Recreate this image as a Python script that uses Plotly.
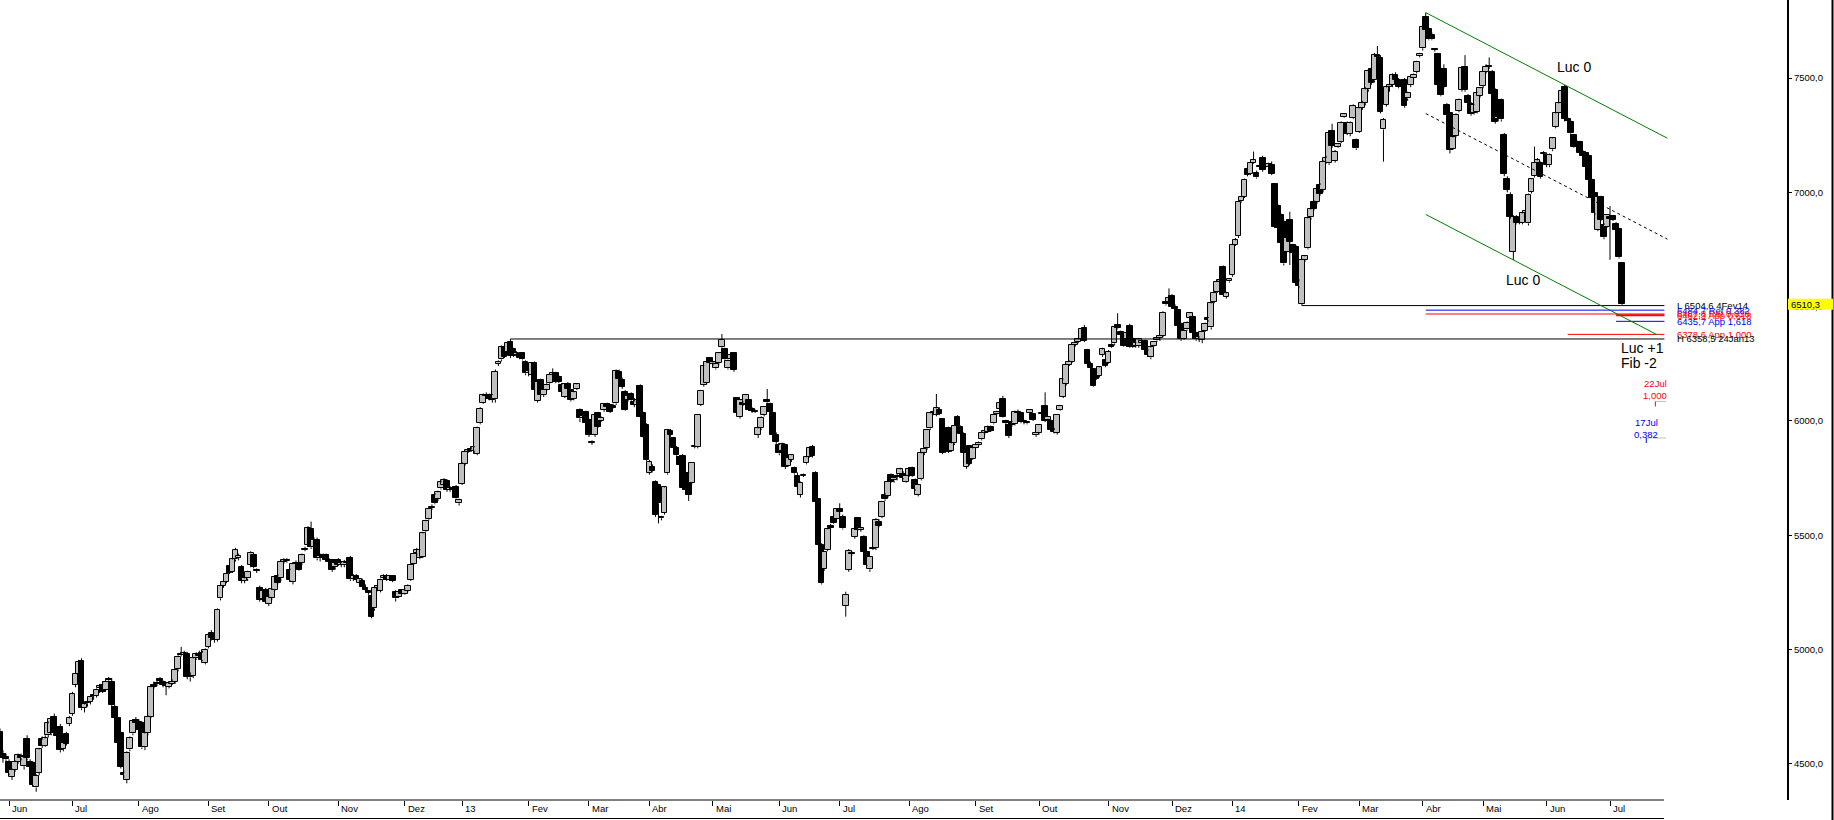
import plotly.graph_objects as go

# ---------------- DATA: daily candles (open, high, low, close) by month ----------------
m2012_05 = [(4640,4655,4530,4548),(4545,4560,4505,4525),(4530,4545,4510,4520)]
m2012_06 = [(4510,4520,4450,4458),(4444,4480,4430,4473),(4475,4515,4465,4508),(4510,4545,4500,4539),
            (4535,4545,4515,4525),(4490,4535,4475,4531),(4607,4625,4515,4524),(4510,4520,4480,4488),
            (4502,4510,4400,4407),(4397,4455,4378,4447),(4461,4570,4450,4563),(4607,4620,4570,4578),
            (4580,4625,4575,4612),(4626,4685,4615,4677),(4633,4700,4625,4695),(4703,4720,4625,4633),
            (4630,4650,4600,4620),(4663,4675,4550,4560),(4565,4600,4555,4590),(4630,4640,4580,4587),
            (4674,4710,4665,4699)]
m2012_07 = [(4718,4815,4710,4805),(4845,4900,4835,4893),(4893,4955,4885,4944),(4951,4962,4735,4743),
            (4745,4770,4725,4760),(4765,4790,4750,4772),(4772,4800,4760,4794),(4800,4815,4780,4797),
            (4797,4830,4790,4823),(4830,4850,4810,4840),(4845,4860,4810,4816),(4825,4870,4820,4860),
            (4870,4880,4860,4866),(4860,4875,4710,4757),(4750,4760,4690,4700),(4699,4705,4585,4592),
            (4633,4640,4480,4488),(4460,4470,4440,4450),(4429,4555,4415,4549),(4563,4620,4555,4612),
            (4633,4695,4625,4689),(4690,4705,4670,4680)]
m2012_08 = [(4684,4695,4640,4648),(4677,4685,4565,4572),(4575,4640,4560,4633),(4633,4715,4625,4706),
            (4706,4845,4700,4835),(4845,4860,4830,4838),(4855,4865,4840,4850),(4870,4880,4855,4862),
            (4860,4865,4835,4845),(4850,4855,4800,4840),(4838,4860,4830,4852),(4850,4870,4845,4860),
            (4859,4915,4850,4910),(4913,4975,4905,4969),(4980,5012,4970,4976),(4978,4995,4960,4985),
            (4980,4990,4870,4881),(4885,4900,4860,4878),(4884,4965,4875,4961),(4961,4988,4955,4980),
            (4980,4995,4965,4972),(4986,4995,4950,4954),(4943,5005,4935,5000)]
m2012_09 = [(5012,5070,5005,5063),(5074,5085,5040,5049),(5045,5060,5030,5042),(5042,5180,5035,5173),
            (5224,5285,5215,5278),(5280,5300,5270,5295),(5297,5340,5290,5330),(5365,5375,5330,5336),
            (5340,5400,5335,5394),(5394,5445,5385,5435),(5400,5420,5390,5410),(5362,5370,5290,5301),
            (5300,5320,5290,5311),(5311,5345,5300,5340),(5370,5430,5360,5424),(5413,5420,5355,5362),
            (5348,5355,5335,5345),(5268,5280,5210,5217),(5220,5260,5215,5255),(5260,5270,5205,5210)]
m2012_10 = [(5199,5240,5190,5231),(5224,5270,5215,5263),(5260,5325,5255,5316),(5320,5330,5285,5290),
            (5311,5392,5300,5384),(5384,5400,5375,5392),(5392,5400,5380,5386),(5348,5355,5295,5304),
            (5297,5380,5285,5374),(5374,5390,5365,5380),(5377,5385,5345,5350),(5377,5420,5370,5413),
            (5440,5450,5430,5436),(5457,5540,5450,5530),(5526,5560,5440,5447),(5450,5490,5440,5480),
            (5479,5490,5390,5399),(5400,5420,5385,5410),(5415,5420,5395,5402),(5413,5420,5385,5392),
            (5390,5400,5370,5385),(5392,5395,5340,5348),(5360,5390,5350,5380)]
m2012_11 = [(5390,5400,5365,5370),(5372,5385,5360,5378),(5370,5392,5360,5385),(5385,5395,5375,5380),
            (5399,5410,5300,5307),(5310,5330,5300,5322),(5320,5330,5295,5304),(5290,5312,5280,5307),
            (5301,5310,5265,5272),(5270,5285,5255,5262),(5255,5260,5240,5249),(5234,5240,5137,5144),
            (5180,5280,5170,5268),(5270,5285,5255,5280),(5258,5310,5250,5304),(5315,5330,5305,5322),
            (5322,5330,5300,5304),(5305,5325,5300,5320),(5320,5325,5295,5300),(5253,5260,5210,5224),
            (5230,5260,5225,5253),(5260,5265,5240,5245)]
m2012_12 = [(5245,5270,5240,5262),(5258,5285,5250,5278),(5304,5375,5300,5370),(5375,5425,5370,5418),
            (5421,5445,5410,5435),(5400,5440,5395,5435),(5406,5515,5400,5508),(5520,5568,5515,5562),
            (5570,5620,5565,5615),(5620,5635,5610,5625),(5676,5685,5635,5640),(5659,5695,5650,5688),
            (5705,5740,5700,5731),(5722,5750,5715,5742),(5737,5745,5690,5698),(5700,5715,5690,5705),
            (5705,5712,5690,5700),(5712,5720,5655,5661),(5640,5660,5630,5654)]
m2013_01 = [(5724,5820,5720,5812),(5812,5870,5805,5866),(5866,5880,5860,5875),(5875,5890,5865,5870),
            (5870,5890,5860,5884),(5855,5975,5850,5971),(5990,6060,5985,6052),(6080,6120,6075,6113),
            (6113,6125,6100,6108),(6113,6120,6090,6095),(6113,6118,6080,6092),(6095,6225,6080,6215),
            (6250,6265,6240,6260),(6269,6330,6260,6322),(6325,6335,6275,6280),(6303,6345,6295,6339),
            (6345,6358.5,6275,6285),(6313,6320,6280,6284),(6290,6305,6280,6298),(6295,6300,6270,6274),
            (6296,6300,6265,6269),(6259,6265,6200,6208)]
m2013_02 = [(6210,6230,6195,6220),(6200,6258,6190,6252),(6252,6260,6130,6135),(6089,6180,6080,6172),
            (6179,6185,6105,6113),(6113,6140,6105,6135),(6135,6165,6130,6157),(6165,6205,6160,6201),
            (6200,6230,6190,6210),(6208,6215,6165,6172),(6193,6200,6165,6172),(6157,6165,6120,6128),
            (6106,6165,6100,6160),(6160,6170,6130,6140),(6135,6140,6085,6091),(6095,6130,6090,6125),
            (6140,6165,6135,6160),(6048,6055,5995,6011),(6015,6035,5995,6020),(6040,6045,5985,5990)]
m2013_03 = [(6004,6010,5930,5939),(5905,5915,5895,5909),(5939,6030,5930,6026),(6033,6040,5970,5975),
            (6000,6020,5995,6015),(6048,6078,6040,6074),(6074,6080,6050,6060),(6070,6075,6035,6040),
            (6062,6075,6055,6060),(6077,6225,6070,6220),(6215,6225,6175,6182),(6180,6190,6140,6150),
            (6128,6135,6045,6048),(6090,6115,6085,6110),(6120,6125,6085,6090),(6085,6100,6060,6070),
            (6070,6095,6060,6090),(6153,6160,6015,6019),(6036,6040,5925,5931),(5982,5990,5825,5829)]
m2013_04 = [(5774,5830,5765,5822),(5800,5810,5775,5780),(5734,5740,5580,5589),(5720,5725,5552,5640),
            (5580,5585,5565,5574),(5599,5715,5590,5709),(5771,5965,5765,5960),(5957,5965,5930,5938),
            (5924,5930,5875,5880),(5880,5890,5840,5850),(5844,5850,5800,5807),(5847,5855,5700,5705),
            (5710,5730,5690,5700),(5771,5780,5650,5676),(5730,5820,5720,5817),(5890,5895,5880,5888),
            (5887,6030,5880,6026),(6070,6135,6065,6132),(6157,6245,6150,6240),(6164,6262,6160,6259),
            (6274,6280,6248,6252)]
m2013_05 = [(6252,6262,6240,6255),(6230,6255,6225,6250),(6252,6300,6245,6296),(6322,6380,6315,6354),
            (6313,6320,6265,6269),(6230,6268,6225,6264),(6270,6300,6260,6290),(6296,6300,6215,6223),
            (6099,6105,6030,6033),(6019,6095,6010,6091),(6080,6085,6065,6070),(6074,6118,6070,6113),
            (6090,6095,6045,6050),(6050,6060,6035,6045),(6045,6050,6035,6040),(5939,5975,5925,5967),
            (5967,6020,5960,6015),(6026,6065,6020,6062),(6090,6140,6080,6085),(6074,6080,6035,6041),
            (6033,6040,5935,5938),(5940,5950,5900,5910)]
m2013_06 = [(5895,5900,5850,5858),(5870,5905,5860,5898),(5895,5900,5790,5800),(5805,5850,5800,5840),
            (5830,5855,5820,5850),(5793,5800,5765,5771),(5760,5775,5700,5710),(5676,5735,5665,5730),
            (5760,5770,5755,5765),(5815,5845,5810,5841),(5844,5885,5840,5880),(5887,5895,5840,5847),
            (5774,5780,5640,5647),(5657,5660,5450,5457),(5457,5465,5285,5290),(5351,5430,5345,5428),
            (5436,5530,5430,5526),(5540,5550,5525,5530),(5581,5590,5550,5555),(5570,5618,5565,5613)]
m2013_07 = [(5613,5640,5590,5600),(5581,5590,5525,5530),(5191,5253,5144,5239),(5348,5440,5340,5432),
            (5420,5430,5410,5418),(5494,5530,5485,5526),(5574,5580,5520,5523),(5525,5535,5515,5530),
            (5494,5500,5425,5428),(5428,5432,5365,5370),(5351,5410,5340,5406),(5440,5450,5435,5443),
            (5443,5575,5435,5567),(5560,5570,5535,5540),(5581,5650,5575,5647),(5676,5685,5650,5657),
            (5672,5740,5665,5734),(5763,5770,5730,5734),(5740,5755,5730,5750),(5755,5770,5740,5760),
            (5768,5795,5760,5788),(5770,5780,5745,5750),(5735,5765,5730,5760)]
m2013_08 = [(5760,5798,5755,5790),(5793,5800,5755,5759),(5742,5748,5695,5701),(5676,5725,5670,5720),
            (5745,5865,5740,5858),(5860,5885,5850,5878),(5880,5965,5875,5960),(5967,6040,5960,6033),
            (6033,6050,6025,6040),(6026,6118,6020,6055),(6050,6060,6025,6030),(6007,6012,5855,5861),
            (5880,5900,5860,5870),(5968,5975,5860,5865),(5870,5910,5865,5902),(5902,5985,5895,5978),
            (6018,6025,5975,5978),(5975,5980,5940,5945),(5943,5950,5855,5861),(5800,5862,5790,5858),
            (5890,5895,5805,5812),(5835,5885,5830,5880)]
m2013_09 = [(5880,5900,5875,5895),(5895,5910,5890,5903),(5920,5955,5915,5949),(5950,5960,5940,5953),
            (5953,5980,5948,5975),(5975,5980,5952,5958),(5989,6030,5985,6026),(6030,6045,6025,6040),
            (6051,6080,6045,6077),(6094,6110,6015,6019),(6000,6005,5980,5990),(5982,5990,5925,5934),
            (5995,6000,5975,5982),(5986,6045,5980,6040),(6040,6050,6030,6035),(6035,6040,5990,5995),
            (5995,6005,5985,5998),(5995,6000,5985,5990),(6036,6050,6030,6047),(6030,6035,6000,6004),
            (5938,5950,5930,5948)]
m2013_10 = [(5946,5985,5940,5982),(6035,6040,6025,6030),(6065,6125,5995,6001),(6004,6020,6000,6018),
            (6000,6005,5955,5960),(5960,5970,5945,5950),(5949,6030,5940,6026),(6050,6070,6045,6065),
            (6106,6185,6100,6182),(6162,6250,6155,6245),(6245,6265,6240,6259),(6259,6335,6255,6332),
            (6332,6345,6325,6342),(6345,6360,6340,6357),(6357,6405,6350,6401),(6405,6420,6345,6350),
            (6310,6315,6245,6249),(6250,6260,6225,6230),(6226,6230,6150,6153),(6195,6200,6180,6185),
            (6197,6240,6190,6234),(6288,6320,6280,6313),(6267,6275,6235,6240)]
m2013_11 = [(6255,6310,6250,6303),(6330,6340,6320,6325),(6339,6415,6330,6409),(6420,6471,6400,6405),
            (6390,6395,6360,6375),(6370,6375,6325,6330),(6357,6390,6350,6386),(6415,6425,6320,6325),
            (6360,6365,6320,6325),(6330,6345,6320,6340),(6328,6360,6320,6357),(6340,6355,6335,6350),
            (6350,6355,6305,6310),(6305,6315,6280,6290),(6278,6325,6270,6322),(6330,6348,6325,6345),
            (6352,6365,6345,6362),(6362,6375,6350,6372),(6372,6480,6365,6474),(6520,6525,6505,6510),
            (6522,6580,6515,6536)]
m2013_12 = [(6546,6555,6495,6500),(6500,6510,6480,6490),(6485,6490,6410,6415),(6424,6430,6350,6357),
            (6360,6400,6355,6395),(6400,6435,6395,6428),(6449,6475,6440,6471),(6456,6460,6375,6383),
            (6383,6390,6350,6357),(6360,6370,6345,6365),(6354,6395,6340,6391),(6395,6430,6390,6425),
            (6450,6455,6435,6440),(6409,6520,6400,6514),(6520,6570,6515,6560),(6565,6615,6560,6609),
            (6610,6620,6600,6615),(6675,6680,6545,6551),(6543,6565,6535,6558),(6610,6625,6605,6620)]
m2014_01 = [(6638,6775,6630,6769),(6770,6800,6765,6790),(6809,6965,6800,6959),(6960,6990,6955,6981),
            (6981,7060,6975,7054),(7100,7110,7070,7076),(7080,7135,7075,7130),(7130,7178,7125,7141),
            (7086,7095,7060,7065),(7115,7125,7105,7110),(7149,7160,7090,7098),(7115,7120,7105,7110),
            (7110,7130,7100,7122),(7119,7135,7075,7080),(7036,7040,6845,6850),(6940,6950,6835,6842),
            (6901,6910,6770,6777),(6871,6880,6680,6689),(6740,6805,6735,6799),(6879,6915,6682,6784),
            (6770,6775,6725,6733),(6762,6770,6600,6605)]
m2014_02 = [(6610,6620,6580,6590),(6512,6710,6504.6,6704),(6704,6725,6695,6720),(6755,6890,6750,6886),
            (6890,6930,6880,6925),(6959,6965,6920,6926),(6959,7020,6950,7013),(7032,7040,6985,6993),
            (7010,7140,7000,7134),(7134,7160,7125,7150),(7127,7265,7120,7261),(7270,7300,7195,7203),
            (7138,7185,7130,7178),(7200,7215,7195,7210),(7221,7310,7215,7305),(7328,7345,7325,7342),
            (7305,7310,7250,7255),(7255,7310,7245,7305),(7324,7385,7320,7378),(7229,7235,7185,7192)]
m2014_03 = [(7265,7370,7260,7367),(7370,7400,7360,7390),(7390,7460,7380,7450),(7450,7540,7440,7530),
            (7540,7550,7470,7480),(7490,7610,7480,7600),(7600,7640,7570,7590),(7586,7600,7345,7353),
            (7275,7325,7134,7316),(7382,7465,7375,7459),(7460,7480,7440,7469),(7469,7520,7460,7513),
            (7513,7525,7480,7491),(7491,7500,7455,7460),(7480,7495,7450,7460),(7491,7500,7370,7377),
            (7411,7440,7400,7436),(7469,7510,7460,7506),(7498,7520,7490,7513),(7528,7575,7520,7571),
            (7596,7610,7590,7605)]
m2014_04 = [(7630,7725,7620,7721),(7765,7786,7705,7710),(7713,7720,7665,7669),(7690,7700,7665,7669),
            (7625,7630,7615,7623),(7605,7610,7465,7469),(7535,7545,7420,7425),(7540,7560,7455,7460),
            (7382,7390,7330,7338),(7345,7350,7170,7185),(7190,7250,7185,7240),(7246,7345,7240,7338),
            (7357,7410,7350,7406),(7447,7545,7440,7542),(7549,7600,7440,7447),(7420,7430,7380,7390),
            (7386,7395,7335,7342),(7348,7385,7340,7382),(7353,7440,7345,7436),(7421,7460,7415,7455)]
m2014_05 = [(7465,7530,7455,7528),(7528,7560,7520,7550),(7550,7590,7540,7548),(7528,7535,7425,7430),
            (7447,7455,7300,7309),(7320,7340,7310,7330),(7406,7410,7310,7319),(7251,7260,7070,7080),
            (7060,7070,7000,7010),(6988,7000,6885,6893),(6740,6900,6704,6893),(6893,6900,6860,6864),
            (6870,6880,6860,6868),(6867,6915,6860,6908),(6908,6930,6900,6920),(6864,6995,6855,6988),
            (7003,7060,6995,7057),(7071,7200,7065,7129),(7130,7150,7120,7140),(7129,7135,7060,7068),
            (7170,7180,7160,7170)]
m2014_06 = [(7165,7175,7110,7120),(7119,7170,7110,7163),(7188,7240,7180,7236),(7287,7350,7280,7345),
            (7348,7395,7340,7389),(7389,7450,7385,7444),(7459,7470,7310,7319),(7320,7330,7300,7312),
            (7309,7315,7250,7258),(7251,7255,7195,7200),(7220,7230,7195,7200),(7220,7225,7165,7170),
            (7175,7185,7150,7160),(7170,7175,7105,7112),(7160,7165,7050,7054),(7054,7060,6965,6974),
            (6995,7000,6900,6908),(6835,6985,6830,6981),(6980,6985,6875,6880),(6857,6865,6795,6803),
            (6850,6905,6845,6901)]
m2014_07 = [(6890,6940,6705,6885),(6895,6900,6875,6880),(6861,6870,6830,6835),(6838,6845,6710,6715),
            (6689,6695,6506,6510.3)]

months = [m2012_05, m2012_06, m2012_07, m2012_08, m2012_09, m2012_10, m2012_11, m2012_12,
          m2013_01, m2013_02, m2013_03, m2013_04, m2013_05, m2013_06, m2013_07, m2013_08,
          m2013_09, m2013_10, m2013_11, m2013_12, m2014_01, m2014_02, m2014_03, m2014_04,
          m2014_05, m2014_06, m2014_07]
month_labels = ["", "Jun", "Jul", "Ago", "Set", "Out", "Nov", "Dez", "13", "Fev", "Mar", "Abr", "Mai",
                "Jun", "Jul", "Ago", "Set", "Out", "Nov", "Dez", "14", "Fev", "Mar", "Abr", "Mai", "Jun", "Jul"]

y_ticks = [4500, 5000, 5500, 6000, 6500, 7000, 7500]
y_tick_text = ["4500,0", "5000,0", "5500,0", "6000,0", "6500,0", "7000,0", "7500,0"]

last_price_text = "6510,3"

# retracement / projection levels
level_values = [6504.6, 6484.7, 6467.8, 6462.3, 6435.7, 6378.6, 6358.5]
level_texts = ["L 6504,6 4Fev14", "6484,7 Ret 0,382", "6467,8 Ret 0,618", "6462,3 App 0,618",
               "6435,7 App 1,618", "6378,6 App 1,000", "H 6358,5 24Jan13"]
level_colors = ["black", "blue", "red", "red", "blue", "red", "black"]
level_widths = [1, 1, 1, 2, 1, 1, 1]

# ---------------- build series ----------------
opens, highs, lows, closes, month_start = [], [], [], [], []
for m in months:
    month_start.append(len(closes))
    for o, h, l, c in m:
        opens.append(o); highs.append(h); lows.append(l); closes.append(c)
n = len(closes)
idx = list(range(n))

# ---------------- layout geometry ----------------
W, H = 1834, 820
MR, MB = 47, 20
PW, PH = W - MR, H - MB
BAR_PX = 3.0208
X_LEFT = month_start[1] - 9 / BAR_PX
X_RIGHT = X_LEFT + PW / BAR_PX
Y_TOP = 7841.2
Y_BOT = 4342.0
PPU = (Y_TOP - Y_BOT) / PH  # price units per pixel


def xp(px):
    return px / PW


def yp(py):
    return 1 - py / PH


fig = go.Figure()

# wicks (only outside bodies)
wx, wy = [], []
for i in idx:
    o, h, l, c = opens[i], highs[i], lows[i], closes[i]
    top, bot = max(o, c), min(o, c)
    if h > top:
        wx += [i, i, None]; wy += [h, top, None]
    if l < bot:
        wx += [i, i, None]; wy += [bot, l, None]
fig.add_trace(go.Scatter(x=wx, y=wy, mode="lines", line=dict(color="black", width=1),
                         hoverinfo="skip", showlegend=False))

# bodies
bases, hts, cols = [], [], []
for o, c in zip(opens, closes):
    d = abs(c - o)
    if d < 1.2 * PPU:
        mid = (o + c) / 2
        bases.append(mid - 0.6 * PPU); hts.append(1.2 * PPU)
    else:
        bases.append(min(o, c)); hts.append(d)
    cols.append("#c0c0c0" if c >= o else "#000000")
fig.add_trace(go.Bar(x=idx, y=hts, base=bases, width=1.9,
                     marker=dict(color=cols, line=dict(color="black", width=1)),
                     hoverinfo="skip", showlegend=False))

shapes = []
annotations = []

# level lines
jan13 = month_start[month_labels.index("13")]
feb14 = month_start[21]
jun14 = month_start[25]
jul14 = month_start[26]
peak_i = max(range(n), key=lambda k: highs[k])
level_starts = [feb14 + 1, peak_i, peak_i, jul14 + 2, jul14 + 2, jun14 + 7, jan13 + 16]
END_I = jul14 + 18
for v, t, col, lw, s in zip(level_values, level_texts, level_colors, level_widths, level_starts):
    shapes.append(dict(type="line", xref="x", yref="y", x0=s, x1=END_I, y0=v, y1=v,
                       line=dict(color=col, width=lw)))
    annotations.append(dict(xref="paper", yref="y", x=xp(1675), y=v, text=t, showarrow=False,
                            xanchor="left", yanchor="middle",
                            font=dict(size=9.5, color=col, family="Liberation Sans")))

# channel (from the April peak, parallel through June high and May low)
jun_high_i = max(range(jun14, jul14), key=lambda k: highs[k])
may_low_i = min(range(month_start[24], jun14), key=lambda k: lows[k])
slope = (highs[jun_high_i] - highs[peak_i]) / (jun_high_i - peak_i)
up0 = highs[peak_i]
lo0 = lows[may_low_i] - slope * (may_low_i - peak_i)
mid0 = (up0 + lo0) / 2
CH_END = jul14 + 19
LO_END = jul14 + 15.6
shapes.append(dict(type="line", xref="x", yref="y", x0=peak_i, x1=CH_END, y0=up0,
                   y1=up0 + slope * (CH_END - peak_i), line=dict(color="#008000", width=1)))
shapes.append(dict(type="line", xref="x", yref="y", x0=peak_i, x1=LO_END, y0=lo0,
                   y1=lo0 + slope * (LO_END - peak_i), line=dict(color="#008000", width=1)))
shapes.append(dict(type="line", xref="x", yref="y", x0=peak_i, x1=CH_END, y0=mid0,
                   y1=mid0 + slope * (CH_END - peak_i), line=dict(color="black", width=1, dash="3px,3px")))

# wave labels
for txt, px, py, anc in [("Luc 0", 1574, 67, "center"), ("Luc 0", 1523, 280, "center"),
                         ("Luc +1", 1619, 348, "left"), ("Fib -2", 1619, 363, "left")]:
    annotations.append(dict(xref="paper", yref="paper", x=xp(px), y=yp(py), text=txt, showarrow=False,
                            xanchor=anc, yanchor="middle",
                            font=dict(size=14, color="black", family="Liberation Sans")))

# time projections
jul22 = jul14 + 15
jul17 = jul14 + 12
for txt, col, xi_, ty, tky in [("22Jul<br>1,000", "red", jul22, 389, 401.5),
                               ("17Jul<br>0,382", "blue", jul17, 428, 438)]:
    annotations.append(dict(xref="x", yref="paper", x=xi_, y=yp(ty), text=txt, showarrow=False,
                            xanchor="center", yanchor="middle", align="right",
                            font=dict(size=9.5, color=col, family="Liberation Sans")))
    shapes.append(dict(type="line", xref="x", yref="paper", x0=xi_, x1=END_I + 0.5,
                       y0=yp(tky), y1=yp(tky), line=dict(color="#c0c0c0", width=1)))
    shapes.append(dict(type="line", xref="x", yref="paper", x0=xi_, x1=xi_,
                       y0=yp(tky), y1=yp(tky + 5), line=dict(color=col, width=1)))

# x axis base lines, right border and month labels
shapes.append(dict(type="line", xref="paper", yref="paper", x0=0, x1=xp(1664), y0=yp(800), y1=yp(800),
                   line=dict(color="black", width=1)))
shapes.append(dict(type="line", xref="paper", yref="paper", x0=0, x1=xp(1664), y0=yp(818.5), y1=yp(818.5),
                   line=dict(color="black", width=1)))
shapes.append(dict(type="line", xref="paper", yref="paper", x0=xp(1832.5), x1=xp(1832.5), y0=yp(0),
                   y1=yp(820), line=dict(color="black", width=2)))
for k in range(1, len(months)):
    annotations.append(dict(xref="x", yref="paper", x=month_start[k], y=yp(808.5), text=month_labels[k],
                            showarrow=False, xanchor="left", yanchor="middle", xshift=1,
                            font=dict(size=9.5, color="black", family="Liberation Sans")))

# last price tag
last = closes[-1]
shapes.append(dict(type="rect", xref="paper", yref="y", x0=xp(1788), x1=xp(1833),
                   y0=last - 5.5 * PPU, y1=last + 5.5 * PPU, fillcolor="#ffff00",
                   line=dict(width=0), layer="above"))
annotations.append(dict(xref="paper", yref="y", x=xp(1789), y=last, text=last_price_text, showarrow=False,
                        xanchor="left", yanchor="middle",
                        font=dict(size=9.5, color="black", family="Liberation Sans")))

fig.update_layout(
    width=W, height=H,
    margin=dict(l=0, r=MR, t=0, b=MB, pad=0),
    paper_bgcolor="white", plot_bgcolor="white",
    showlegend=False, hovermode=False, bargap=0,
    font=dict(family="Liberation Sans", size=10, color="black"),
    xaxis=dict(range=[X_LEFT, X_RIGHT], showgrid=False, zeroline=False, showline=False,
               tickvals=month_start[1:], ticks="outside", ticklen=5, tickwidth=1, tickcolor="black",
               showticklabels=False, fixedrange=True),
    yaxis=dict(range=[Y_BOT, Y_TOP], side="right", showgrid=False, zeroline=False,
               showline=True, linecolor="black", linewidth=2,
               ticks="outside", ticklen=3, tickwidth=1, tickcolor="black",
               tickvals=y_ticks, ticktext=y_tick_text,
               tickfont=dict(size=9.5, family="Liberation Sans", color="black"), fixedrange=True),
    shapes=shapes, annotations=annotations,
)

fig.write_html("out.html", config={"displayModeBar": False},
               post_script="document.body.style.margin='0px';document.body.style.overflow='hidden';")
